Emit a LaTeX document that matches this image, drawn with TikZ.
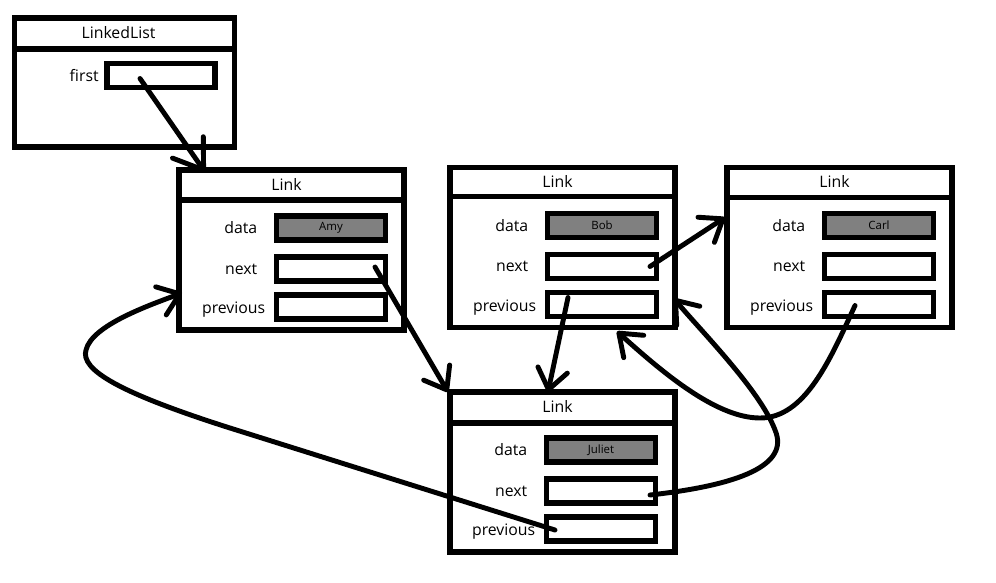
\documentclass[tikz,border=0pt]{standalone}
\usepackage{fontspec}
\setmainfont{Open Sans}
\usetikzlibrary{arrows.meta, positioning}
\tikzstyle{linkbox} = [draw=black, line width=3pt, minimum width=4.5cm, minimum height=3.2cm, outer sep=0pt, anchor=north west]
\tikzstyle{listbox} = [linkbox, minimum width=4.4cm, minimum height=2.58cm]
\tikzstyle{linktitle} = [font=\fontsize{9}{11}\selectfont, inner sep=0pt]
\tikzstyle{fieldbox} = [draw=black, line width=3pt, minimum width=2.18cm, minimum height=0.48cm, inner sep=0pt, outer sep=0pt, font=\fontsize{6.5}{8}\selectfont]
\tikzstyle{valuebox} = [fieldbox, fill=gray]
\tikzstyle{fieldname} = [font=\fontsize{9}{11}\selectfont, inner sep=0pt]
\tikzstyle{divline} = [line width=3pt]
\tikzstyle{arrow} = [line width=2.8pt, line cap=round, -{Straight Barb[length=0.4cm, width=0.6cm, round]}]

\begin{document}
\begin{tikzpicture}[x=0.02cm, y=-0.02cm]
\path [fill=white, use as bounding box] (0,0) rectangle (996,582);

% LinkedList
\node (list) [listbox] at (14.5,18) {};
\node [linktitle] at ([shift={(-6,15)}]list.north) {LinkedList};
\draw [divline] ([shift={(0,31)}]list.north west) -- ([shift={(0,31)}]list.north east);
\node (first) [fieldbox, minimum width=2.16cm] at ([shift={(146.5,57.5)}]list.north west) {};
\node [fieldname, left=0.16cm of first] {first};

% Link Amy
\node (amy) [linkbox] at (179,170) {};
\node [linktitle] at ([shift={(-5,14)}]amy.north) {Link};
\draw [divline] ([shift={(0,30)}]amy.north west) -- ([shift={(0,30)}]amy.north east);
\node (amydata) [valuebox] at ([shift={(152,58)}]amy.north west) {Amy};
\node (amynext) [fieldbox] at ([shift={(152,99)}]amy.north west) {};
\node (amyprev) [fieldbox] at ([shift={(152,137)}]amy.north west) {};
\node [fieldname, left=0.38cm of amydata] {data};
\node [fieldname, left=0.38cm of amynext] {next};
\node [fieldname, left=0.22cm of amyprev, yshift=-0.06cm] {previous};

% Link Bob
\node (bob) [linkbox] at (450,167.5) {};
\node [linktitle] at ([shift={(-5,14)}]bob.north) {Link};
\draw [divline] ([shift={(0,29)}]bob.north west) -- ([shift={(0,29)}]bob.north east);
\node (bobdata) [valuebox] at ([shift={(152,58)}]bob.north west) {Bob};
\node (bobnext) [fieldbox] at ([shift={(152,99)}]bob.north west) {};
\node (bobprev) [fieldbox] at ([shift={(152,137)}]bob.north west) {};
\node [fieldname, left=0.38cm of bobdata] {data};
\node [fieldname, left=0.38cm of bobnext] {next};
\node [fieldname, left=0.22cm of bobprev, yshift=-0.06cm] {previous};

% Link Carl
\node (carl) [linkbox] at (727,167.5) {};
\node [linktitle] at ([shift={(-5,14)}]carl.north) {Link};
\draw [divline] ([shift={(0,30)}]carl.north west) -- ([shift={(0,30)}]carl.north east);
\node (carldata) [valuebox] at ([shift={(152,58)}]carl.north west) {Carl};
\node (carlnext) [fieldbox] at ([shift={(152,99)}]carl.north west) {};
\node (carlprev) [fieldbox] at ([shift={(152,137)}]carl.north west) {};
\node [fieldname, left=0.38cm of carldata] {data};
\node [fieldname, left=0.38cm of carlnext] {next};
\node [fieldname, left=0.22cm of carlprev, yshift=-0.06cm] {previous};

% Link Juliet
\node (juliet) [linkbox] at (450,392) {};
\node [linktitle] at ([shift={(-5,14)}]juliet.north) {Link};
\draw [divline] ([shift={(0,31)}]juliet.north west) -- ([shift={(0,31)}]juliet.north east);
\node (julietdata) [valuebox] at ([shift={(151,58)}]juliet.north west) {Juliet};
\node (julietnext) [fieldbox] at ([shift={(151,99)}]juliet.north west) {};
\node (julietprev) [fieldbox] at ([shift={(151,137)}]juliet.north west) {};
\node [fieldname, left=0.38cm of julietdata] {data};
\node [fieldname, left=0.38cm of julietnext] {next};
\node [fieldname, left=0.22cm of julietprev, yshift=-0.06cm] {previous};

% pointers
\draw [arrow, -{Straight Barb[length=0.55cm, width=0.75cm, round]}] ([shift={(-21,3)}]first.center) -- ([shift={(26,2)}]amy.north west);
\draw [arrow] ([shift={(44,-2)}]amynext.center) -- ([shift={(-2,0)}]juliet.north west);
\draw [arrow] ([shift={(48,0)}]bobnext.center) -- ([shift={(-2,50)}]carl.north west);
\draw [arrow] ([shift={(-34,-7)}]bobprev.center) -- ([shift={(98,0)}]juliet.north west);
\draw [arrow] ([shift={(-24,1)}]carlprev.center) .. controls (830,360) and (805,418) .. (760,418)
  .. controls (715,418) and (660,370) .. ([shift={(167,4)}]bob.south west);
\draw [arrow] ([shift={(49,4)}]julietnext.center) .. controls (740,485) and (790,465) .. (775,430)
  .. controls (760,390) and (700,330) .. ([shift={(-1,-29)}]bob.south east);
\draw [arrow] ([shift={(-46,1)}]julietprev.center) -- (230,428) .. controls (120,393) and (80,370) .. (86,350)
  .. controls (92,325) and (150,305) .. ([shift={(3,-37)}]amy.south west);

\end{tikzpicture}
\end{document}
